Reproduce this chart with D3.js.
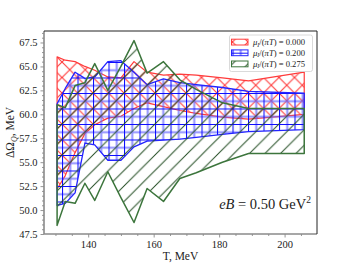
<!DOCTYPE html>
<html>
<head>
<meta charset="utf-8">
<script src="https://cdn.jsdelivr.net/npm/d3@7"></script>
<style>
  body { margin: 0; background: #fff; }
  svg { display: block; font-family: "Liberation Serif", "DejaVu Serif", serif; }
</style>
</head>
<body>
<div id="chart"></div>
<script>
// temperatures, MeV
const T = [130.5, 133, 136, 139, 142, 146, 150, 154, 158, 163, 168, 173, 181, 189, 206];

// band edges for each chemical potential
const redUpper   = [66.0, 65.65, 65.5, 65.0, 64.6, 63.9, 63.8, 65.5, 64.4, 64.1, 64.2, 64.1, 63.8, 63.5, 64.4];
const redLower   = [52.2, 53.6, 56.0, 58.0, 58.9, 59.6, 59.8, 60.6, 61.2, 60.8, 60.4, 60.1, 59.7, 59.5, 60.0];
const blueUpper  = [61.1, 62.7, 64.4, 63.75, 63.9, 65.5, 65.6, 64.4, 63.1, 63.7, 63.3, 63.1, 62.8, 62.4, 62.2];
const blueLower  = [50.5, 50.7, 51.8, 57.0, 56.8, 55.2, 55.2, 56.6, 57.2, 57.3, 57.4, 57.6, 57.9, 58.2, 58.4];
const greenUpper = [61.0, 60.7, 63.0, 63.3, 65.3, 62.5, 65.0, 67.7, 64.3, 65.5, 63.6, 62.6, 61.2, 60.6, 60.6];
const greenLower = [48.4, 50.9, 50.7, 52.8, 51.0, 54.0, 51.3, 48.7, 52.25, 50.9, 53.3, 53.9, 55.0, 55.9, 55.9];

const muLabels = ["0.000", "0.200", "0.275"];
const xTicks = [140, 160, 180, 200];
const yTicks = [47.5, 50, 52.5, 55, 57.5, 60, 62.5, 65, 67.5];

const width = 352, height = 264;
const margin = { top: 31, right: 35, bottom: 30, left: 44 };

const svg = d3.select("#chart").append("svg")
  .attr("width", width).attr("height", height);

const x = d3.scaleLinear().domain([126.5, 209.9]).range([margin.left, width - margin.right]);
const y = d3.scaleLinear().domain([47.5, 68.7]).range([height - margin.bottom, margin.top]);

// hatch patterns
const P = 15.5;
const defs = svg.append("defs");

const pRed = defs.append("pattern").attr("id", "hRed")
  .attr("patternUnits", "userSpaceOnUse").attr("width", P).attr("height", P);
pRed.append("path")
  .attr("d", `M-2,-2L${P + 2},${P + 2}M-2,${P + 2}L${P + 2},-2`)
  .attr("stroke", "#ff2424").attr("stroke-width", 1.1).attr("stroke-opacity", 0.9);

const pBlue = defs.append("pattern").attr("id", "hBlue")
  .attr("patternUnits", "userSpaceOnUse").attr("width", P).attr("height", P);
pBlue.append("path")
  .attr("d", `M0,${P / 2 + 0.5}H${P}M${P / 2 + 0.5},0V${P}`)
  .attr("stroke", "#6060ff").attr("stroke-width", 2).attr("stroke-opacity", 0.7);
pBlue.append("path")
  .attr("d", `M0,0.5H${P}M0.5,0V${P}`)
  .attr("stroke", "#0a0aff").attr("stroke-width", 1.1);

const pGreen = defs.append("pattern").attr("id", "hGreen")
  .attr("patternUnits", "userSpaceOnUse").attr("width", P).attr("height", P);
pGreen.append("path")
  .attr("d", `M-2,${P + 2}L${P + 2},-2M-2,2L2,-2M${P - 2},${P + 2}L${P + 2},${P - 2}`)
  .attr("stroke", "#244d24").attr("stroke-width", 1);

const bands = [
  { upper: redUpper, lower: redLower, fill: "url(#hRed)", edge: "#ff3b3b", w: 1.2 },
  { upper: blueUpper, lower: blueLower, fill: "url(#hBlue)", edge: "#2323ff", w: 1.3 },
  { upper: greenUpper, lower: greenLower, fill: "url(#hGreen)", edge: "#3c753c", w: 1.5 }
];

const area = d3.area()
  .x((d, i) => x(T[i]))
  .y0(d => y(d[0]))
  .y1(d => y(d[1]));

svg.append("g").selectAll("path")
  .data(bands)
  .join("path")
  .attr("d", b => area(b.lower.map((v, i) => [v, b.upper[i]])) + "Z")
  .attr("fill", b => b.fill)
  .attr("stroke", b => b.edge)
  .attr("stroke-width", b => b.w)
  .attr("stroke-linejoin", "round");

// axes
const plotBottom = height - margin.bottom;
svg.append("g").attr("transform", `translate(0,${plotBottom})`)
  .call(d3.axisBottom(x).tickValues(xTicks).tickSize(3.5).tickPadding(3).tickFormat(d3.format("d")));
svg.append("g").attr("transform", `translate(0,${plotBottom})`)
  .call(d3.axisBottom(x).tickValues(d3.range(130, 210, 5).filter(v => v % 20 !== 0)).tickSize(2).tickFormat(""));

svg.append("g").attr("transform", `translate(${margin.left},0)`)
  .call(d3.axisLeft(y).tickValues(yTicks).tickSize(3.5).tickPadding(3).tickFormat(d3.format(".1f")));
svg.append("g").attr("transform", `translate(${margin.left},0)`)
  .call(d3.axisLeft(y).tickValues(d3.range(48, 68.6, 0.5).filter(v => v % 2.5 !== 0)).tickSize(2).tickFormat(""));

svg.selectAll(".domain").remove();
svg.selectAll(".tick line").attr("stroke", "#8a8a8a").attr("stroke-width", 0.9);
svg.selectAll(".tick text").attr("font-size", "10.5px").attr("fill", "#222")
  .attr("font-family", "Liberation Serif, serif");

// spines
svg.append("line").attr("x1", margin.left).attr("x2", margin.left)
  .attr("y1", margin.top).attr("y2", plotBottom).attr("stroke", "#8a8a8a").attr("stroke-width", 1.6);
svg.append("line").attr("x1", margin.left).attr("x2", width - margin.right)
  .attr("y1", plotBottom).attr("y2", plotBottom).attr("stroke", "#8a8a8a").attr("stroke-width", 1.6);
svg.append("line").attr("x1", margin.left).attr("x2", width - margin.right)
  .attr("y1", margin.top).attr("y2", margin.top).attr("stroke", "#222").attr("stroke-width", 1);
svg.append("line").attr("x1", width - margin.right).attr("x2", width - margin.right)
  .attr("y1", margin.top).attr("y2", plotBottom).attr("stroke", "#222").attr("stroke-width", 1);

// axis labels
svg.append("text").attr("x", (margin.left + width - margin.right) / 2).attr("y", 260)
  .attr("text-anchor", "middle").attr("font-size", "11.5px").attr("fill", "#222")
  .text("T, MeV");

const yl = svg.append("text")
  .attr("transform", `translate(14,${(margin.top + plotBottom) / 2}) rotate(-90)`)
  .attr("text-anchor", "middle").attr("font-size", "11.5px").attr("fill", "#222");
yl.append("tspan").text("ΔΩ");
yl.append("tspan").attr("font-style", "italic").attr("font-size", "8px").attr("dy", 2.5).text("Q");
yl.append("tspan").attr("dy", -2.5).text(", MeV");

// annotation
const ann = svg.append("text").attr("x", 311).attr("y", 209)
  .attr("text-anchor", "end").attr("font-size", "14.5px").attr("fill", "#222");
ann.append("tspan").attr("font-style", "italic").text("eB");
ann.append("tspan").text(" = 0.50 GeV");
ann.append("tspan").attr("font-size", "9.5px").attr("dy", -6).text("2");

// legend
const leg = svg.append("g");
leg.append("rect").attr("x", 229.5).attr("y", 35).attr("width", 83).attr("height", 36.5)
  .attr("rx", 2).attr("fill", "#fff").attr("fill-opacity", 0.85)
  .attr("stroke", "#d0d0d0").attr("stroke-width", 0.8);

const rowY = [42, 52.7, 63.8];
const items = leg.selectAll("g.item").data(bands).join("g").attr("class", "item")
  .attr("transform", (d, i) => `translate(0,${rowY[i]})`);
items.append("rect").attr("x", 231.5).attr("y", -2.8).attr("width", 16.5).attr("height", 5.8)
  .attr("fill", d => d.fill).attr("stroke", d => d.edge).attr("stroke-width", 1);
const lt = items.append("text").attr("x", 253).attr("y", 3)
  .attr("font-size", "8.6px").attr("fill", "#222");
lt.append("tspan").attr("font-style", "italic").text("μ");
lt.append("tspan").attr("font-style", "italic").attr("font-size", "6px").attr("dy", 1.5).text("I");
lt.append("tspan").attr("dy", -1.5).text("/(");
lt.append("tspan").attr("font-style", "italic").text("πT");
lt.append("tspan").text((d, i) => ") = " + muLabels[i]);
</script>
</body>
</html>
